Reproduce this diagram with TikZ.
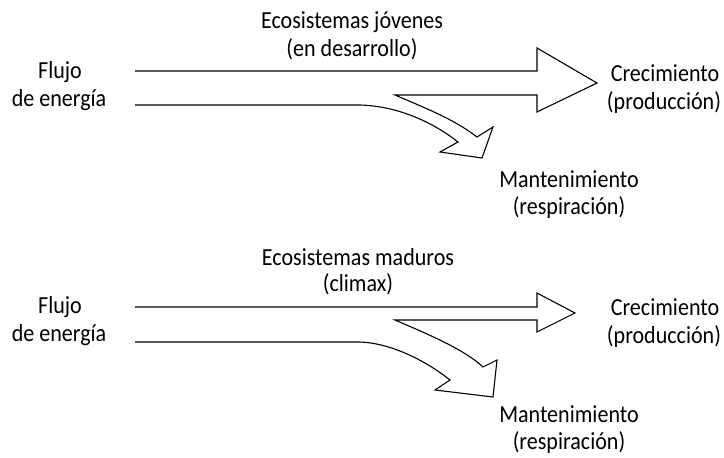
\documentclass[tikz,border=0pt]{standalone}
\usepackage{fontspec}
\setmainfont{Carlito}[FakeStretch=0.9]
\begin{document}
\begin{tikzpicture}[x=1pt,y=-1pt,
  lbl/.style={anchor=base,inner sep=0pt,font=\fontsize{24.5}{28}\selectfont},
  flow/.style={draw=black,line width=1.1pt,line join=miter}]
\useasboundingbox (0,0) rectangle (724,458);
% ---------- top: young ecosystems ----------
\node[lbl] (t1) at (352,28) {Ecosistemas jóvenes};
\node[lbl] (t2) at (352,56) {(en desarrollo)};
\node[lbl] (f1) at (60,78) {Flujo};
\node[lbl] (f2) at (59,106) {de energía};
\node[lbl] (c1) at (665,81) {Crecimiento};
\node[lbl] (c2) at (664,109) {(producción)};
\node[lbl] (m1) at (569,187) {Mantenimiento};
\node[lbl] (m2) at (569,214) {(respiración)};
\draw[flow] (135,71) -- (537,71) -- (537,48) -- (597,83) -- (537,112) -- (537,95) -- (395,95)
  .. controls (430,110) and (455,120) .. (477,137) -- (493,127) -- (482,158) -- (440,152) -- (458,142)
  .. controls (430,120) and (395,106) .. (360,105) -- (135,105);
% ---------- bottom: mature ecosystems ----------
\node[lbl] (b1) at (358,265) {Ecosistemas maduros};
\node[lbl] (b2) at (358,291) {(climax)};
\node[lbl] (g1) at (60,313) {Flujo};
\node[lbl] (g2) at (59,341) {de energía};
\node[lbl] (d1) at (665,315) {Crecimiento};
\node[lbl] (d2) at (664,343) {(producción)};
\node[lbl] (n1) at (569,422) {Mantenimiento};
\node[lbl] (n2) at (569,449) {(respiración)};
\draw[flow] (135,307) -- (537,307) -- (537,293) -- (575,313) -- (537,332) -- (537,320) -- (395,320)
  .. controls (430,335) and (465,350) .. (483,367) -- (497,360) -- (493,397) -- (435,390) -- (450,380)
  .. controls (425,360) and (390,343) .. (360,342) -- (135,342);
\end{tikzpicture}
\end{document}
